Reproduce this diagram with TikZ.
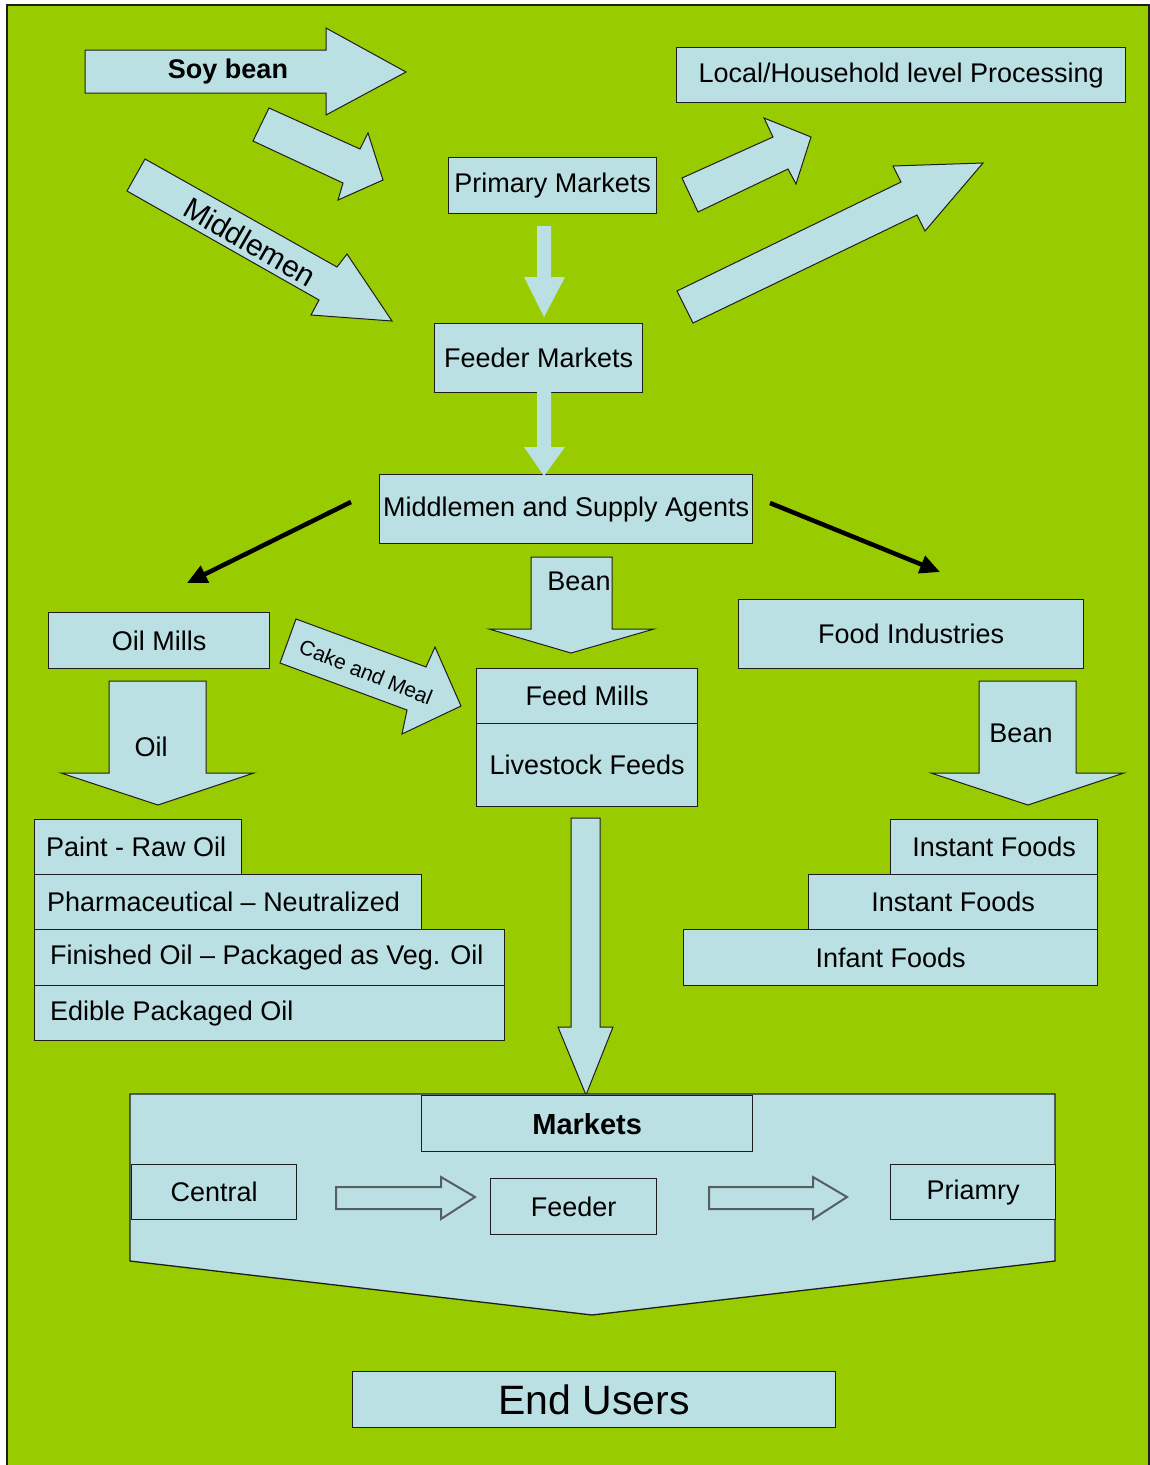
\documentclass[tikz,border=0pt]{standalone}
\usepackage{fontspec}
\setmainfont{Liberation Sans}
\usetikzlibrary{arrows.meta}
\definecolor{bg}{RGB}{153,204,0}
\definecolor{lb}{RGB}{187,224,227}
\definecolor{ln}{RGB}{30,30,30}
\definecolor{gl}{RGB}{85,95,95}
\newcommand\fsz[1]{\fontsize{#1}{#1}\selectfont}
\begin{document}
\begin{tikzpicture}[x=1pt,y=-1pt,
  box/.style={draw=ln, fill=lb, line width=1.3pt, inner sep=0pt, anchor=north west, font=\fsz{27}, text=black},
  shp/.style={draw=ln, fill=lb, line width=1pt, line join=miter},
  flat/.style={fill=lb},
  outl/.style={draw=gl, fill=lb, line width=2pt, line join=miter},
  lbl/.style={font=\fsz{27}, text=black, inner sep=0pt},
  blk/.style={draw=black, line width=4.5pt, -{Triangle[length=20pt,width=18pt]}}]
\useasboundingbox (0,0) rectangle (1150,1465);
\fill[white] (0,0) rectangle (1150,1465);
\filldraw[fill=bg, draw=ln, line width=1.5pt] (7,5) rectangle (1149,1475);

% top-left arrows
\draw[shp] (85,50) -- (326,50) -- (326,28) -- (406,72) -- (326,115) -- (326,93) -- (85,93) -- cycle;
\node[lbl, font=\bfseries\fsz{27}] (soy) at (228,72) {Soy bean};
\draw[shp] (269,108) -- (360,149) -- (368,133) -- (383,180) -- (338,200) -- (343,183) -- (253,141) -- cycle;
\draw[shp] (145,159) -- (337,267) -- (347,254) -- (392,321) -- (311,315) -- (319,300) -- (127,191) -- cycle;
\node[lbl, font=\fsz{30}, rotate=-30] (mid) at (250,242) {Middlemen};

% top-right arrows
\draw[shp] (682,178) -- (773,137) -- (764,118) -- (811,137) -- (796,184) -- (788,169) -- (698,212) -- cycle;
\draw[shp] (677,291) -- (901,182) -- (893,166) -- (983,163) -- (925,231) -- (917,215) -- (693,323) -- cycle;

% main column
\node[box, minimum width=449pt, minimum height=55pt] (lhp) at (676,47) {Local/Household level Processing};
\node[box, minimum width=208pt, minimum height=56pt] (pm) at (448,157) {Primary Markets};
\node[box, minimum width=208pt, minimum height=69pt] (fm) at (434,323) {Feeder Markets};
\node[box, minimum width=373pt, minimum height=69pt] (msa) at (379,474) {Middlemen and Supply Agents};
\fill[lb] (537,226) -- (551,226) -- (551,277) -- (565,277) -- (544,317) -- (524,277) -- (537,277) -- cycle;
\fill[lb] (537,392) -- (551,392) -- (551,447) -- (565,447) -- (544,476) -- (524,447) -- (537,447) -- cycle;

% black arrows
\coordinate (la0) at (351,502);
\coordinate (la1) at (187,583);
\coordinate (ra0) at (770,503);
\coordinate (ra1) at (940,572);
\draw[blk] (la0) -- (la1);
\draw[blk] (ra0) -- (ra1);

% left branch
\node[box, minimum width=221pt, minimum height=56pt] (om) at (48,612) {Oil Mills};
\draw[shp] (109,681) -- (206,681) -- (206,773) -- (254,773) -- (158,805) -- (61,773) -- (109,773) -- cycle;
\node[lbl] (oil) at (151,747) {Oil};
\draw[shp] (296,619) -- (426,667) -- (435,647) -- (461,706) -- (402,734) -- (407,710) -- (280,663) -- cycle;
\node[lbl, font=\fsz{21}, rotate=-22] (cake) at (366,672) {Cake and Meal};

\node[box, minimum width=207pt, minimum height=55pt] (paint) at (34,819) {};
\node[box, minimum width=387pt, minimum height=55pt] (pharma) at (34,874) {};
\node[box, minimum width=470pt, minimum height=56pt] (fin) at (34,929) {};
\node[box, minimum width=470pt, minimum height=55pt] (edi) at (34,985) {};
\node[lbl, anchor=west] at ([xshift=12pt]paint.west) {Paint - Raw Oil};
\node[lbl, anchor=west] at ([xshift=13pt]pharma.west) {Pharmaceutical -- Neutralized};
\node[lbl, anchor=west] at ([xshift=16pt]fin.west) {Finished Oil -- Packaged as Veg. Oil};
\node[lbl, anchor=west] at ([xshift=16pt]edi.west) {Edible Packaged Oil};

% middle branch
\draw[shp] (531,557) -- (612,557) -- (612,629) -- (654,629) -- (571,653) -- (489,629) -- (531,629) -- cycle;
\node[lbl] (bean1) at (579,581) {Bean};
\node[box, minimum width=221pt, minimum height=55pt] (fdm) at (476,668) {Feed Mills};
\node[box, minimum width=221pt, minimum height=83pt] (lsf) at (476,723) {Livestock Feeds};
\draw[shp] (571,818) -- (600,818) -- (600,1027) -- (613,1027) -- (586,1095) -- (558,1027) -- (571,1027) -- cycle;

% right branch
\node[box, minimum width=345pt, minimum height=69pt] (fi) at (738,599) {Food Industries};
\draw[shp] (979,681) -- (1076,681) -- (1076,773) -- (1124,773) -- (1028,805) -- (931,773) -- (979,773) -- cycle;
\node[lbl] (bean2) at (1021,733) {Bean};
\node[box, minimum width=207pt, minimum height=55pt] (if1) at (890,819) {Instant Foods};
\node[box, minimum width=289pt, minimum height=55pt] (if2) at (808,874) {Instant Foods};
\node[box, minimum width=414pt, minimum height=56pt] (inf) at (683,929) {Infant Foods};

% markets
\draw[shp, line width=1.3pt] (130,1094) -- (1055,1094) -- (1055,1261) -- (592,1315) -- (130,1261) -- cycle;
\node[box, minimum width=331pt, minimum height=56pt, font=\bfseries\fsz{29}] (mk) at (421,1095) {Markets};
\node[box, minimum width=165pt, minimum height=55pt] (cen) at (131,1164) {Central};
\node[box, minimum width=166pt, minimum height=56pt] (fee) at (490,1178) {Feeder};
\node[box, minimum width=165pt, minimum height=55pt] (pri) at (890,1164) {Priamry};
\draw[outl] (336,1187) -- (441,1187) -- (441,1177) -- (475,1197) -- (441,1219) -- (441,1209) -- (336,1209) -- cycle;
\draw[outl] (709,1187) -- (813,1187) -- (813,1177) -- (847,1197) -- (813,1219) -- (813,1209) -- (709,1209) -- cycle;

\node[box, minimum width=483pt, minimum height=56pt, font=\fsz{41}] (eu) at (352,1371) {End Users};
\end{tikzpicture}
\end{document}
